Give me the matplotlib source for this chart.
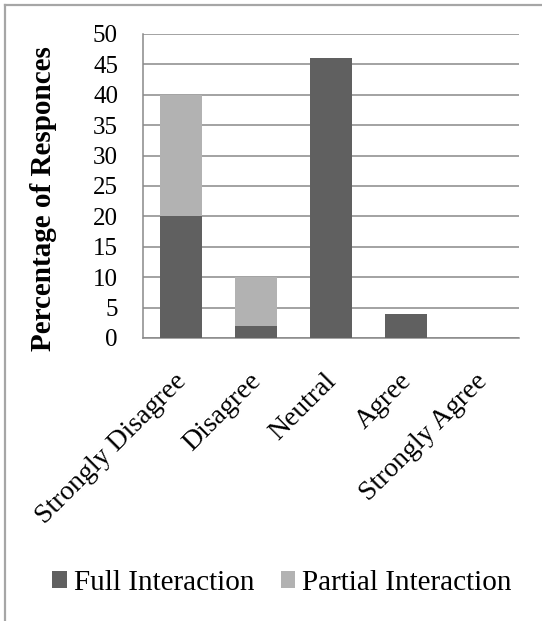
import matplotlib
matplotlib.use("Agg")
import matplotlib.pyplot as plt
import matplotlib.transforms as mtransforms
from matplotlib.lines import Line2D
from matplotlib.patches import Patch

categories = ["Strongly Disagree", "Disagree", "Neutral", "Agree", "Strongly Agree"]
full_interaction = [20, 2, 46, 4, 0]
partial_interaction = [20, 8, 0, 0, 0]
y_ticks = [0, 5, 10, 15, 20, 25, 30, 35, 40, 45, 50]

FULL_COLOR = "#606060"
PARTIAL_COLOR = "#b2b2b2"
GRID_COLOR = "#898989"

plt.rcParams["font.family"] = ["Liberation Serif", "DejaVu Serif"]

W, H = 542, 621
fig = plt.figure(figsize=(W / 100, H / 100), dpi=100)
fig.patch.set_facecolor("white")

left, right, top, bottom = 143, 519, 34, 338
ax = fig.add_axes([left / W, 1 - bottom / H, (right - left) / W, (bottom - top) / H])

x = list(range(len(categories)))
ax.bar(x, full_interaction, width=0.56, color=FULL_COLOR, zorder=3)
ax.bar(x, partial_interaction, width=0.56, bottom=full_interaction,
       color=PARTIAL_COLOR, zorder=3)

ax.set_xlim(-0.5, len(categories) - 0.5)
ax.set_ylim(0, 50)
ax.set_yticks(y_ticks)
ax.set_yticklabels([str(v) for v in y_ticks], fontsize=18)
ax.set_xticks(x)
ax.set_xticklabels(categories, rotation=45, ha="right", va="top",
                   rotation_mode="anchor", fontsize=20)
ax.tick_params(axis="y", length=0, pad=18)
ax.tick_params(axis="x", length=0, pad=22)

# nudge the rotated category labels slightly to the left
shift = mtransforms.ScaledTranslation(-5 / 72, 0, fig.dpi_scale_trans)
for lbl in ax.get_xticklabels():
    lbl.set_transform(lbl.get_transform() + shift)

ax.yaxis.grid(True, color=GRID_COLOR, linewidth=1.1, zorder=0)
ax.set_axisbelow(True)
for side in ["top", "right"]:
    ax.spines[side].set_visible(False)
for side in ["left", "bottom"]:
    ax.spines[side].set_color(GRID_COLOR)
    ax.spines[side].set_linewidth(1.1)

ax.set_ylabel("Percentage of Responces", fontsize=21, fontweight="bold")
ax.yaxis.set_label_coords(-0.229, 0.46)

handles = [Patch(facecolor=FULL_COLOR, label="Full Interaction"),
           Patch(facecolor=PARTIAL_COLOR, label="Partial Interaction")]
fig.legend(handles=handles, loc="center", bbox_to_anchor=(282 / W, 1 - 583 / H),
           ncol=2, frameon=False, fontsize=21, handlelength=0.5, handleheight=0.5,
           handletextpad=0.25, columnspacing=0.9, borderpad=0)

# outer chart border (left and top edges)
fig.add_artist(Line2D([5 / W, 5 / W], [0, 1 - 5 / H], transform=fig.transFigure,
                      color="#a6a6a6", linewidth=1.6))
fig.add_artist(Line2D([5 / W, 1], [1 - 5 / H, 1 - 5 / H], transform=fig.transFigure,
                      color="#a6a6a6", linewidth=1.6))

fig.savefig("out.png", dpi=100)
